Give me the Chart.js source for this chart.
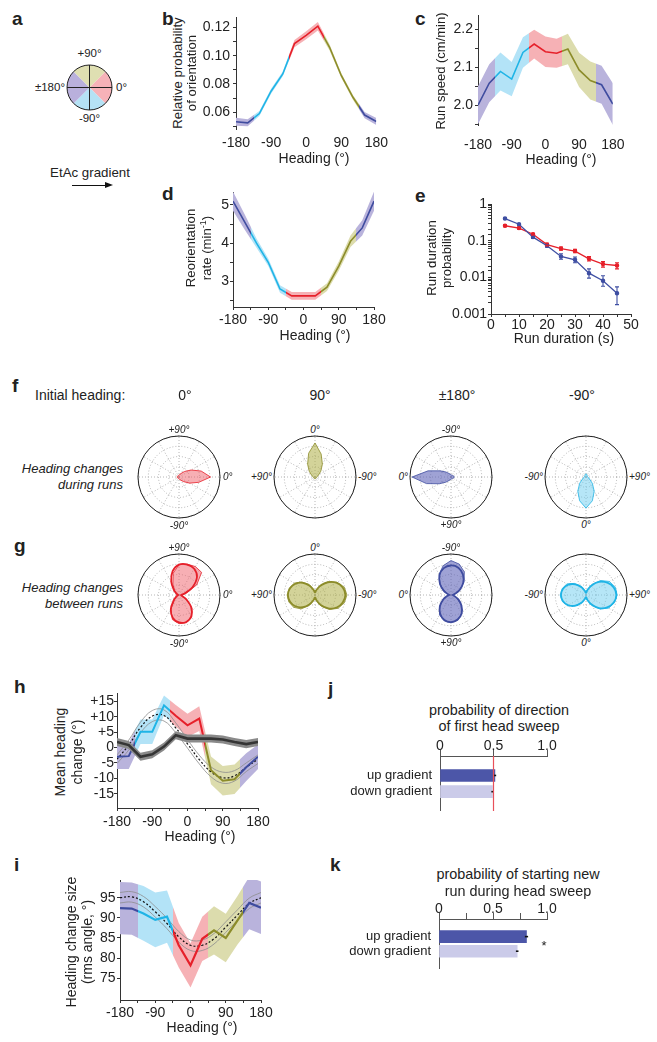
<!DOCTYPE html>
<html>
<head>
<meta charset="utf-8">
<script src="https://cdn.jsdelivr.net/npm/chart.js@4.4.0/dist/chart.umd.min.js"></script>
<style>
body { margin: 0; background: #fff; }
#fig { position: relative; width: 657px; height: 1042px; overflow: hidden; font-family: 'Liberation Sans', Arial, sans-serif; color: #222; }
#fig canvas { position: absolute; }
.t { position: absolute; white-space: nowrap; line-height: 1; }
.lab { font-weight: bold; }
.it { font-style: italic; }
</style>
</head>
<body>
<div id="fig"></div>
<script>
// ---- data ----
const HEADINGS = [-180, -150, -120, -90, -60, -30, 0, 30, 60, 90, 120, 150, 180];
const SEG_EDGES = [-135, -45, 45, 135];

const B_PROB = [0.0531, 0.0524, 0.059, 0.0748, 0.0871, 0.1086, 0.1145, 0.121, 0.106, 0.086, 0.0705, 0.0579, 0.0533];
const B_SEM = [0.0028, 0.0025, 0.0018, 0.0017, 0.0017, 0.0025, 0.0028, 0.003, 0.0022, 0.0017, 0.0017, 0.0022, 0.0025];

const C_SPEED = [2.0, 2.058, 2.089, 2.069, 2.139, 2.161, 2.141, 2.137, 2.148, 2.093, 2.065, 2.054, 2.003];
const C_SEM = [0.05, 0.05, 0.05, 0.045, 0.04, 0.038, 0.04, 0.038, 0.04, 0.045, 0.05, 0.05, 0.055];

const D_RATE = [5.1, 4.55, 4.0, 3.5, 2.8, 2.62, 2.62, 2.62, 2.85, 3.4, 4.05, 4.4, 5.1];
const D_SEM = [0.25, 0.2, 0.12, 0.1, 0.1, 0.1, 0.1, 0.1, 0.1, 0.12, 0.15, 0.2, 0.25];

const E_DUR = [5, 10, 15, 20, 25, 30, 35, 40, 45];
const E_BLUE = [0.40, 0.28, 0.125, 0.073, 0.037, 0.030, 0.013, 0.0081, 0.0037];
const E_BLUE_LO = [0.38, 0.265, 0.115, 0.066, 0.031, 0.025, 0.0095, 0.0057, 0.0018];
const E_BLUE_HI = [0.42, 0.295, 0.135, 0.08, 0.044, 0.036, 0.017, 0.011, 0.0055];
const E_RED = [0.255, 0.22, 0.15, 0.078, 0.061, 0.052, 0.032, 0.023, 0.021];
const E_RED_LO = [0.24, 0.205, 0.14, 0.072, 0.055, 0.047, 0.028, 0.019, 0.017];
const E_RED_HI = [0.27, 0.235, 0.16, 0.085, 0.067, 0.058, 0.037, 0.027, 0.025];

const H_MEAN = [-3.0, -2.8, 5.1, 5.1, 13.7, 10.3, 7.2, 9.4, -7.4, -10.8, -10.3, -6.4, -3.0];
const H_SEM = [4.0, 4.2, 4.0, 4.0, 3.2, 3.5, 3.8, 4.0, 4.5, 4.8, 4.8, 4.5, 4.0];
const H_CTRL = [1.8, 0.8, -3.0, -2.2, 0.3, 4.0, 2.9, 2.9, 2.9, 2.6, 1.8, 1.1, 1.8];
const H_CTRL_SEM = [1.3, 1.3, 1.3, 1.3, 1.3, 1.3, 1.3, 1.3, 1.3, 1.3, 1.3, 1.3, 1.3];
const H_FIT = [-3.8, 0.8, 6.5, 10.2, 10.4, 6.4, 1.2, -3.9, -7.9, -9.8, -9.2, -6.4, -3.8];
const H_FIT_HI = [-2.4, 2.4, 8.2, 12.0, 12.2, 8.0, 2.6, -2.5, -6.3, -8.0, -7.5, -5.0, -2.4];
const H_FIT_LO = [-5.2, -0.8, 4.8, 8.4, 8.6, 4.8, -0.2, -5.3, -9.5, -11.6, -10.9, -7.8, -5.2];

const I_MEAN = [92.4, 92.3, 91.1, 89.5, 90.3, 83.2, 78.2, 84.8, 86.9, 85.0, 89.4, 93.7, 92.5];
const I_SEM = [6.5, 6.5, 6.8, 6.8, 6.5, 5.5, 5.5, 5.5, 6.0, 6.0, 6.0, 6.5, 6.5];
const I_FIT = [95.0, 95.2, 94.0, 91.5, 88.6, 85.3, 83.2, 83.2, 84.8, 87.7, 90.7, 93.6, 95.0];
const I_FIT_HI = [96.3, 96.5, 95.3, 92.8, 89.9, 86.6, 84.5, 84.5, 86.1, 89.0, 92.0, 94.9, 96.3];
const I_FIT_LO = [93.7, 93.9, 92.7, 90.2, 87.3, 84.0, 81.9, 81.9, 83.5, 86.4, 89.4, 92.3, 93.7];

// heading change bins (deg, counter-clockwise from the initial heading), radius as fraction of the circle
const ROSE_BINS = [0, 15, 30, 45, 60, 75, 90, 105, 120, 135, 150, 165, 180, 195, 210, 225, 240, 255, 270, 285, 300, 315, 330, 345];
const F_RED = [0.77, 0.56, 0.34, 0.19, 0.1, 0.06, 0.05, 0.04, 0.04, 0.04, 0.04, 0.04, 0.05, 0.04, 0.04, 0.04, 0.04, 0.04, 0.05, 0.06, 0.09, 0.16, 0.3, 0.5];
const F_OLIVE = [0.83, 0.6, 0.36, 0.2, 0.1, 0.06, 0.05, 0.04, 0.04, 0.04, 0.04, 0.04, 0.05, 0.04, 0.04, 0.04, 0.04, 0.04, 0.05, 0.06, 0.1, 0.2, 0.36, 0.58];
const F_PURPLE = [0.95, 0.62, 0.33, 0.18, 0.1, 0.07, 0.05, 0.05, 0.05, 0.05, 0.06, 0.07, 0.08, 0.07, 0.06, 0.05, 0.05, 0.05, 0.05, 0.07, 0.1, 0.17, 0.3, 0.58];
const F_CYAN = [0.76, 0.6, 0.4, 0.22, 0.1, 0.06, 0.05, 0.04, 0.04, 0.04, 0.05, 0.06, 0.08, 0.06, 0.05, 0.04, 0.04, 0.04, 0.05, 0.06, 0.1, 0.22, 0.4, 0.6];
const G_RED = [0.08, 0.2, 0.5, 0.78, 0.8, 0.78, 0.74, 0.55, 0.3, 0.15, 0.08, 0.05, 0.04, 0.05, 0.07, 0.15, 0.4, 0.62, 0.7, 0.7, 0.62, 0.45, 0.2, 0.08];
const G_RED_FIT = [0.05, 0.14, 0.38, 0.62, 0.74, 0.77, 0.74, 0.6, 0.38, 0.18, 0.07, 0.03, 0.02, 0.03, 0.07, 0.18, 0.4, 0.58, 0.67, 0.68, 0.6, 0.42, 0.2, 0.07];
const G_OLIVE = [0.1, 0.15, 0.3, 0.45, 0.58, 0.65, 0.68, 0.66, 0.6, 0.48, 0.3, 0.15, 0.08, 0.15, 0.32, 0.5, 0.65, 0.74, 0.78, 0.74, 0.62, 0.45, 0.28, 0.14];
const G_OLIVE_FIT = [0.06, 0.12, 0.26, 0.42, 0.55, 0.63, 0.66, 0.63, 0.55, 0.42, 0.26, 0.12, 0.06, 0.13, 0.28, 0.46, 0.61, 0.7, 0.74, 0.7, 0.6, 0.44, 0.26, 0.12];
const G_PURPLE = [0.06, 0.1, 0.22, 0.4, 0.56, 0.65, 0.68, 0.64, 0.52, 0.35, 0.18, 0.08, 0.05, 0.1, 0.25, 0.45, 0.65, 0.78, 0.84, 0.74, 0.58, 0.38, 0.2, 0.08];
const G_PURPLE_FIT = [0.04, 0.1, 0.22, 0.38, 0.53, 0.63, 0.66, 0.62, 0.52, 0.36, 0.2, 0.08, 0.04, 0.09, 0.24, 0.42, 0.58, 0.69, 0.72, 0.68, 0.56, 0.38, 0.2, 0.08];
const G_CYAN = [0.08, 0.14, 0.3, 0.48, 0.64, 0.72, 0.76, 0.74, 0.66, 0.5, 0.3, 0.14, 0.08, 0.12, 0.25, 0.4, 0.54, 0.6, 0.63, 0.6, 0.52, 0.38, 0.22, 0.1];
const G_CYAN_FIT = [0.05, 0.12, 0.27, 0.45, 0.6, 0.7, 0.74, 0.7, 0.6, 0.45, 0.27, 0.12, 0.05, 0.1, 0.22, 0.37, 0.5, 0.58, 0.61, 0.58, 0.5, 0.37, 0.22, 0.1];

const BAR_CATS = ['up gradient', 'down gradient'];
const J_PROB = [0.513, 0.49];
const J_ERR = [0.012, 0.01];
const K_PROB = [0.81, 0.724];
const K_ERR = [0.015, 0.012];

const A_LABELS = ['0°', '-90°', '±180°', '+90°'];
const A_SPAN = [90, 90, 90, 90];

// ---- styling ----
const AX = '#333';
const SEG_LINE = ['#3f4c9f', '#1fb4e6', '#e6202a', '#8c8c2a', '#3f4c9f'];
const SEG_BAND = ['#b9b3dc', '#b3e3f7', '#f6b1b5', '#dcdcad', '#b9b3dc'];
const A_COLS = ['#f6b2b8', '#b5e2f5', '#b9b0dc', '#dfdfb2'];
const ROSE_COL = {
  red: ['#e6202a', 'rgba(240,95,105,0.5)'],
  olive: ['#8c8c2a', 'rgba(175,175,70,0.55)'],
  purple: ['#3f4c9f', 'rgba(95,100,185,0.6)'],
  cyan: ['#1fb4e6', 'rgba(110,205,240,0.5)']
};

Chart.defaults.font.family = "'Liberation Sans', Arial, sans-serif";
Chart.defaults.font.size = 14;
Chart.defaults.color = '#222';
Chart.defaults.animation = false;
Chart.defaults.responsive = false;
Chart.defaults.devicePixelRatio = 1;
Chart.defaults.events = [];
Chart.defaults.plugins.legend.display = false;
Chart.defaults.plugins.tooltip.enabled = false;
Chart.defaults.elements.point.radius = 0;
Chart.defaults.elements.line.tension = 0;

const fig = document.getElementById('fig');

function makeCanvas(l, t, w, h) {
  const c = document.createElement('canvas');
  l = Math.round(l); t = Math.round(t); w = Math.round(w); h = Math.round(h);
  c.width = w; c.height = h;
  c.style.left = l + 'px'; c.style.top = t + 'px';
  c.style.width = w + 'px'; c.style.height = h + 'px';
  fig.appendChild(c);
  return c;
}

function txt(s, x, y, size, align, cls, rot) {
  const d = document.createElement('div');
  d.className = 't ' + (cls || '');
  d.innerHTML = s;
  d.style.left = x + 'px';
  d.style.top = y + 'px';
  d.style.fontSize = size + 'px';
  const tx = align === 'l' ? '0' : align === 'r' ? '-100%' : '-50%';
  d.style.transform = 'translate(' + tx + ',-50%)' + (rot ? ' rotate(-90deg)' : '');
  fig.appendChild(d);
}

const xy = arr => HEADINGS.map((h, i) => ({x: h, y: arr[i]}));

// hard colour steps at the four heading sectors
function headingGrad(chart, cols) {
  const xs = chart.scales.x;
  if (!xs || !chart.chartArea) return cols[0];
  const x0 = xs.getPixelForValue(-180), x1 = xs.getPixelForValue(180);
  const g = chart.ctx.createLinearGradient(x0, 0, x1, 0);
  let p0 = 0;
  SEG_EDGES.forEach((e, i) => {
    const p = (e + 180) / 360;
    g.addColorStop(p0, cols[i]);
    g.addColorStop(p, cols[i]);
    p0 = p;
  });
  g.addColorStop(p0, cols[cols.length - 1]);
  g.addColorStop(1, cols[cols.length - 1]);
  return g;
}

const errorBars = {
  id: 'errorBars',
  afterDatasetsDraw(chart) {
    const ctx = chart.ctx;
    const horiz = chart.options.indexAxis === 'y';
    chart.data.datasets.forEach((ds, di) => {
      if (!ds.errLo) return;
      const meta = chart.getDatasetMeta(di);
      const vs = horiz ? chart.scales.x : chart.scales.y;
      ctx.save();
      ctx.strokeStyle = ds.errColor || ds.borderColor;
      ctx.lineWidth = ds.errWidth || 1.1;
      meta.data.forEach((el, i) => {
        const a = vs.getPixelForValue(ds.errLo[i]), b = vs.getPixelForValue(ds.errHi[i]);
        ctx.beginPath();
        if (horiz) {
          ctx.moveTo(a, el.y); ctx.lineTo(b, el.y);
        } else {
          ctx.moveTo(el.x, a); ctx.lineTo(el.x, b);
          ctx.moveTo(el.x - 2, a); ctx.lineTo(el.x + 2, a);
          ctx.moveTo(el.x - 2, b); ctx.lineTo(el.x + 2, b);
        }
        ctx.stroke();
      });
      ctx.restore();
    });
  }
};

function headingPanel(p) {
  const L = Math.round(p.L), T = Math.round(p.T);
  const W = Math.round(p.R - p.L), H = Math.round(p.B - p.T);
  const yw = p.yw, xh = 30, pt = 13, pr = 16;
  const cv = makeCanvas(L - yw, T - pt, yw + W + pr, pt + H + xh);
  const lo = p.mean.map((m, i) => m - p.err[i]);
  const hi = p.mean.map((m, i) => m + p.err[i]);
  const ds = [
    {data: xy(p.mean), borderColor: c => headingGrad(c.chart, SEG_LINE), borderWidth: p.lw || 1.6, order: 2},
    {data: xy(lo), borderColor: 'transparent', borderWidth: 0, order: 8},
    {data: xy(hi), borderColor: 'transparent', borderWidth: 0, order: 8, fill: '-1',
     backgroundColor: c => headingGrad(c.chart, SEG_BAND)}
  ].concat(p.extra || []);
  new Chart(cv, {
    type: 'line',
    data: {datasets: ds},
    options: {
      layout: {padding: {top: pt, right: pr}},
      scales: {
        x: {
          type: 'linear', min: -180, max: 180,
          afterFit: s => { s.height = xh; },
          ticks: {stepSize: p.xAxis ? 45 : 90, autoSkip: false, maxRotation: 0, padding: p.xpad,
                  callback: v => (v % 90 === 0 ? String(v) : '')},
          grid: {display: !!p.xAxis, drawOnChartArea: false, drawTicks: !!p.xAxis, tickLength: 3, color: AX},
          border: {display: !!p.xAxis, color: AX}
        },
        y: {
          min: p.ymin, max: p.ymax,
          afterFit: s => { s.width = yw; },
          afterBuildTicks: p.tickFilter,
          ticks: {stepSize: p.ystep, autoSkip: false, includeBounds: false, padding: p.ypad, callback: p.ylab},
          grid: {drawOnChartArea: false, tickLength: 3, color: AX},
          border: {color: AX}
        }
      }
    }
  });
}

const near = (v, s) => Math.abs(v / s - Math.round(v / s)) < 1e-6;

// b
headingPanel({L: 235.7, T: 16.75, R: 377.7, B: 128.5, yw: 40, xpad: 6, ypad: 3,
  mean: B_PROB, err: B_SEM, ymin: 0.048, ymax: 0.1275, ystep: 0.01,
  ylab: v => (near(v, 0.02) ? v.toFixed(2) : '')});
// c
headingPanel({L: 478.3, T: 15, R: 620.7, B: 125, yw: 40, xpad: 11.5, ypad: 2,
  mean: C_SPEED, err: C_SEM, ymin: 1.948, ymax: 2.2376, ystep: 0.05,
  ylab: v => (near(v, 0.1) ? v.toFixed(1) : '')});
// d
headingPanel({L: 232.7, T: 191.7, R: 373.3, B: 306.7, yw: 30, xpad: 2, ypad: 1, xAxis: true,
  mean: D_RATE, err: D_SEM, ymin: 2.33, ymax: 5.34, ystep: 0.5,
  ylab: v => (near(v, 1) ? String(Math.round(v)) : '')});
// h
headingPanel({L: 116.7, T: 693, R: 257.7, B: 808, yw: 40, xpad: 3, ypad: 0, xAxis: true, lw: 2,
  mean: H_MEAN, err: H_SEM, ymin: -19.64, ymax: 17.7, ystep: 5,
  ylab: v => (v > 0 ? '+' + v : String(v)),
  extra: [
    {data: xy(H_CTRL), borderColor: '#353535', borderWidth: 2.6, order: 0},
    {data: xy(H_CTRL.map((m, i) => m - H_CTRL_SEM[i])), borderColor: 'transparent', borderWidth: 0, order: 1},
    {data: xy(H_CTRL.map((m, i) => m + H_CTRL_SEM[i])), borderColor: 'transparent', borderWidth: 0, order: 1,
     fill: '-1', backgroundColor: '#8a8a8a'},
    {data: xy(H_FIT), borderColor: '#111', borderWidth: 1.2, borderDash: [2, 2], tension: 0.4, order: 3},
    {data: xy(H_FIT_HI), borderColor: '#8d8d8d', borderWidth: 0.8, tension: 0.4, order: 3},
    {data: xy(H_FIT_LO), borderColor: '#8d8d8d', borderWidth: 0.8, tension: 0.4, order: 3}
  ]});
// i
headingPanel({L: 119.5, T: 880, R: 260, B: 1000, yw: 35, xpad: 1.6, ypad: 1.5, xAxis: true, lw: 2.2,
  mean: I_MEAN, err: I_SEM, ymin: 69.6, ymax: 99.4, ystep: 5,
  tickFilter: s => { s.ticks = s.ticks.filter(t => t.value >= 75); },
  ylab: v => String(v),
  extra: [
    {data: xy(I_FIT), borderColor: '#111', borderWidth: 1.2, borderDash: [2, 2], tension: 0.4, order: 3},
    {data: xy(I_FIT_HI), borderColor: '#8d8d8d', borderWidth: 0.8, tension: 0.4, order: 3},
    {data: xy(I_FIT_LO), borderColor: '#8d8d8d', borderWidth: 0.8, tension: 0.4, order: 3}
  ]});

// e: run duration distributions (log y)
(function () {
  const yw = 52, xh = 30, pt = 10, pr = 14;
  const L = 491, T = 204, W = 140, H = 110;
  const cv = makeCanvas(L - yw, T - pt, yw + W + pr, pt + H + xh);
  const pts = arr => E_DUR.map((d, i) => ({x: d, y: arr[i]}));
  const LOG_LAB = ['0.001', '0.01', '0.1', '1'];
  new Chart(cv, {
    type: 'line',
    data: {datasets: [
      {data: pts(E_BLUE), borderColor: '#3f4fa3', backgroundColor: '#3f4fa3', borderWidth: 1.3, pointRadius: 1.6,
       errLo: E_BLUE_LO, errHi: E_BLUE_HI},
      {data: pts(E_RED), borderColor: '#e6202a', backgroundColor: '#e6202a', borderWidth: 1.3, pointRadius: 1.6,
       errLo: E_RED_LO, errHi: E_RED_HI}
    ]},
    plugins: [errorBars],
    options: {
      layout: {padding: {top: pt, right: pr}},
      scales: {
        x: {type: 'linear', min: 0, max: 50, afterFit: s => { s.height = xh; },
            ticks: {stepSize: 5, autoSkip: false, maxRotation: 0, padding: 0,
                    callback: v => (v % 10 === 0 ? String(v) : '')},
            grid: {drawOnChartArea: false, tickLength: 3, color: AX}, border: {color: AX}},
        y: {type: 'logarithmic', min: 0.001, max: 1, afterFit: s => { s.width = yw; },
            ticks: {autoSkip: false, padding: 1, callback: v => {
              const l = Math.log10(v);
              return Math.abs(l - Math.round(l)) < 1e-6 ? LOG_LAB[Math.round(l) + 3] : '';
            }},
            grid: {drawOnChartArea: false, tickLength: 3, color: AX}, border: {color: AX}}
      }
    }
  });
})();

// j, k: horizontal bars
function barPanel(L, T, R, B, vals, errs, ymin, ymax, xStep, ref) {
  const yw = 100, xh = 20, pt = 2, pr = 14, pb = 20;
  const W = Math.round(R - L), H = Math.round(B - T);
  const cv = makeCanvas(Math.round(L) - yw, Math.round(T) - xh - pt, yw + W + pr, pt + xh + H + pb);
  const plugins = [errorBars];
  if (ref != null) {
    plugins.push({id: 'refLine', afterDatasetsDraw(chart) {
      const c = chart.ctx, x = chart.scales.x.getPixelForValue(ref);
      c.save(); c.strokeStyle = '#e8505a'; c.lineWidth = 1.2;
      c.beginPath(); c.moveTo(x, chart.chartArea.top); c.lineTo(x, chart.chartArea.bottom + 1); c.stroke();
      c.restore();
    }});
  }
  new Chart(cv, {
    type: 'bar',
    data: {datasets: [{
      data: vals.map((v, i) => ({x: v, y: i + 1})),
      backgroundColor: ['#4c56a8', '#cbcbe9'],
      barThickness: 12,
      errLo: vals.map((v, i) => v - errs[i]),
      errHi: vals.map((v, i) => v + errs[i]),
      errColor: '#111', errWidth: 1.6
    }]},
    plugins: plugins,
    options: {
      indexAxis: 'y',
      layout: {padding: {top: pt, right: pr, bottom: pb}},
      scales: {
        x: {type: 'linear', position: 'top', min: 0, max: 1, afterFit: s => { s.height = xh; },
            ticks: {stepSize: xStep, autoSkip: false, maxRotation: 0, padding: -5,
                    callback: v => (near(v, 0.5) ? (v === 0 ? '0' : v.toFixed(1)) : '')},
            grid: {drawOnChartArea: false, tickLength: 6, color: '#555'}, border: {color: '#555'}},
        y: {type: 'linear', reverse: true, offset: false, min: ymin, max: ymax, afterFit: s => { s.width = yw; },
            afterBuildTicks: s => { s.ticks = BAR_CATS.map((c, i) => ({value: i + 1})); },
            ticks: {padding: 8, font: {size: 13}, callback: v => BAR_CATS[Math.round(v) - 1]},
            grid: {display: false, drawTicks: false, offset: false}, border: {color: '#555'}}
      }
    }
  });
}
barPanel(440, 756, 547.3, 810, J_PROB, J_ERR, -0.2, 3.13, 0.5, 0.5);
barPanel(439.3, 919.3, 547, 968, K_PROB, K_ERR, -0.207, 3.15, 0.25, null);

// a: sector key
(function () {
  const cv = makeCanvas(66, 64, 47, 47);
  new Chart(cv, {
    type: 'pie',
    data: {labels: A_LABELS, datasets: [{data: A_SPAN, backgroundColor: A_COLS, borderWidth: 0}]},
    plugins: [{id: 'pieFrame', afterDatasetsDraw(chart) {
      const arc = chart.getDatasetMeta(0).data[0];
      const c = chart.ctx, r = arc.outerRadius;
      c.save(); c.strokeStyle = '#222'; c.lineWidth = 1;
      c.beginPath(); c.arc(arc.x, arc.y, r, 0, Math.PI * 2); c.stroke();
      c.beginPath(); c.moveTo(arc.x - r, arc.y); c.lineTo(arc.x + r, arc.y);
      c.moveTo(arc.x, arc.y - r); c.lineTo(arc.x, arc.y + r); c.stroke();
      c.restore();
    }}],
    options: {layout: {padding: 1}, rotation: 45}
  });
})();

// f, g: polar heading-change histograms
const roseFrame = {
  id: 'roseFrame',
  afterDraw(chart) {
    const r = chart.scales.r, c = chart.ctx;
    c.save(); c.strokeStyle = '#222'; c.lineWidth = 1;
    c.beginPath(); c.arc(r.xCenter, r.yCenter, r.drawingArea, 0, Math.PI * 2); c.stroke();
    c.restore();
  }
};
function rosePanel(cx, cy, initial, petal, fit, col) {
  const cv = makeCanvas(cx - 42, cy - 42, 84, 84);
  const n = ROSE_BINS.length;
  const idx = ROSE_BINS.map((b, j) => (n - j) % n);
  const ds = [{data: idx.map(k => petal[k]), borderColor: col[0], borderWidth: 0.8,
               backgroundColor: col[1], fill: true, order: 1}];
  if (fit) ds.unshift({data: idx.map(k => fit[k]), borderColor: col[0], borderWidth: 1.8,
                       fill: false, tension: 0.35, order: 0});
  new Chart(cv, {
    type: 'radar',
    data: {labels: idx.map(k => ROSE_BINS[k] + '°'), datasets: ds},
    plugins: [roseFrame],
    options: {
      layout: {padding: 1},
      scales: {r: {
        min: 0, max: 1, startAngle: 90 - initial,
        ticks: {display: false, stepSize: 0.25},
        pointLabels: {display: false},
        grid: {circular: true, color: '#a3a3a3', lineWidth: 0.8},
        border: {dash: [1, 2]},
        angleLines: {color: c => (c.index % 2 === 0 ? '#a3a3a3' : 'transparent'), lineWidth: 0.8, borderDash: [1, 2]}
      }}
    }
  });
}
const COLS_X = [179, 315, 451, 586];
rosePanel(COLS_X[0], 477, 0, F_RED, null, ROSE_COL.red);
rosePanel(COLS_X[1], 477, 90, F_OLIVE, null, ROSE_COL.olive);
rosePanel(COLS_X[2], 477, 180, F_PURPLE, null, ROSE_COL.purple);
rosePanel(COLS_X[3], 477, -90, F_CYAN, null, ROSE_COL.cyan);
rosePanel(COLS_X[0], 595, 0, G_RED, G_RED_FIT, ROSE_COL.red);
rosePanel(COLS_X[1], 595, 90, G_OLIVE, G_OLIVE_FIT, ROSE_COL.olive);
rosePanel(COLS_X[2], 595, 180, G_PURPLE, G_PURPLE_FIT, ROSE_COL.purple);
rosePanel(COLS_X[3], 595, -90, G_CYAN, G_CYAN_FIT, ROSE_COL.cyan);

// ---- text ----
const LS = 19;
txt('a', 12, 18, LS, 'l', 'lab');
txt('b', 162, 18, LS, 'l', 'lab');
txt('c', 415, 18, LS, 'l', 'lab');
txt('d', 162, 193, LS, 'l', 'lab');
txt('e', 415, 195, LS, 'l', 'lab');
txt('f', 12, 385, LS, 'l', 'lab');
txt('g', 14, 545, LS, 'l', 'lab');
txt('h', 14, 686, LS, 'l', 'lab');
txt('i', 14, 864, LS, 'l', 'lab');
txt('j', 328, 688, LS, 'l', 'lab');
txt('k', 330, 864, LS, 'l', 'lab');

txt('+90°', 89.5, 54, 11.5, 'c');
txt('-90°', 89.5, 119, 11.5, 'c');
txt('±180°', 65, 88, 11.5, 'r');
txt('0°', 116, 88, 11.5, 'l');
txt('EtAc gradient', 90, 173, 13.3, 'c');
(function () {
  const ln = document.createElement('div');
  ln.style.cssText = 'position:absolute;left:72px;top:184.5px;width:35px;height:1.5px;background:#111';
  fig.appendChild(ln);
  const hd = document.createElement('div');
  hd.style.cssText = 'position:absolute;left:105px;top:181.7px;width:0;height:0;border-left:8px solid #111;border-top:3.5px solid transparent;border-bottom:3.5px solid transparent';
  fig.appendChild(hd);
})();

txt('Relative probability', 177.5, 72.5, 13.2, 'c', '', true);
txt('of orientation', 191.5, 72.5, 13.2, 'c', '', true);
txt('Heading (°)', 314, 158, 14, 'c');
txt('Run speed (cm/min)', 440, 71, 13, 'c', '', true);
txt('Heading (°)', 561, 159, 14, 'c');
txt('Reorientation', 191, 248, 13.2, 'c', '', true);
txt('rate (min<sup style="font-size:9px">-1</sup>)', 206, 248, 13.2, 'c', '', true);
txt('Heading (°)', 315, 335, 14, 'c');
txt('Run duration', 432, 258, 13.2, 'c', '', true);
txt('probability', 447, 258, 13.2, 'c', '', true);
txt('Run duration (s)', 564, 338, 14, 'c');

txt('Initial heading:', 35, 395, 14, 'l');
txt('0°', 185, 395, 14, 'c');
txt('90°', 320, 395, 14, 'c');
txt('±180°', 457, 395, 14, 'c');
txt('-90°', 582, 395, 14, 'c');
txt('Heading changes', 123, 468, 13, 'r', 'it');
txt('during runs', 123, 484, 13, 'r', 'it');
txt('Heading changes', 123, 587, 13, 'r', 'it');
txt('between runs', 123, 603, 13, 'r', 'it');

[477, 595].forEach((cy, row) => {
  const dy = cy - 477;
  const P = 10;
  txt('+90°', 179, 430 + dy, P, 'c', 'it');
  txt('-90°', 179, 526 + dy, P, 'c', 'it');
  txt('0°', 223, 477 + dy, P, 'l', 'it');
  txt('0°', 315, 430 + dy, P, 'c', 'it');
  txt('+90°', 272, 477 + dy, P, 'r', 'it');
  txt('-90°', 358, 477 + dy, P, 'l', 'it');
  txt('-90°', 451, 430 + dy, P, 'c', 'it');
  txt('0°', 408, 477 + dy, P, 'r', 'it');
  txt('+90°', 451, 525 + dy, P, 'c', 'it');
  txt('-90°', 543, 477 + dy, P, 'r', 'it');
  txt('+90°', 629, 477 + dy, P, 'l', 'it');
  txt('0°', 586, 525 + dy, P, 'c', 'it');
});

txt('Mean heading', 60, 752, 14, 'c', '', true);
txt('change (°)', 77, 752, 14, 'c', '', true);
txt('Heading (°)', 200, 836, 14, 'c');
txt('Heading change size', 71, 942, 14, 'c', '', true);
txt('(rms angle, °)', 87, 942, 14, 'c', '', true);
txt('Heading (°)', 202, 1027, 14, 'c');

txt('probability of direction', 499, 710, 14.4, 'c');
txt('of first head sweep', 499, 726, 14.4, 'c');
txt('probability of starting new', 518, 874, 14.4, 'c');
txt('run during head sweep', 518, 891, 14.4, 'c');
txt('*', 544, 945, 13, 'c');
</script>
</body>
</html>
